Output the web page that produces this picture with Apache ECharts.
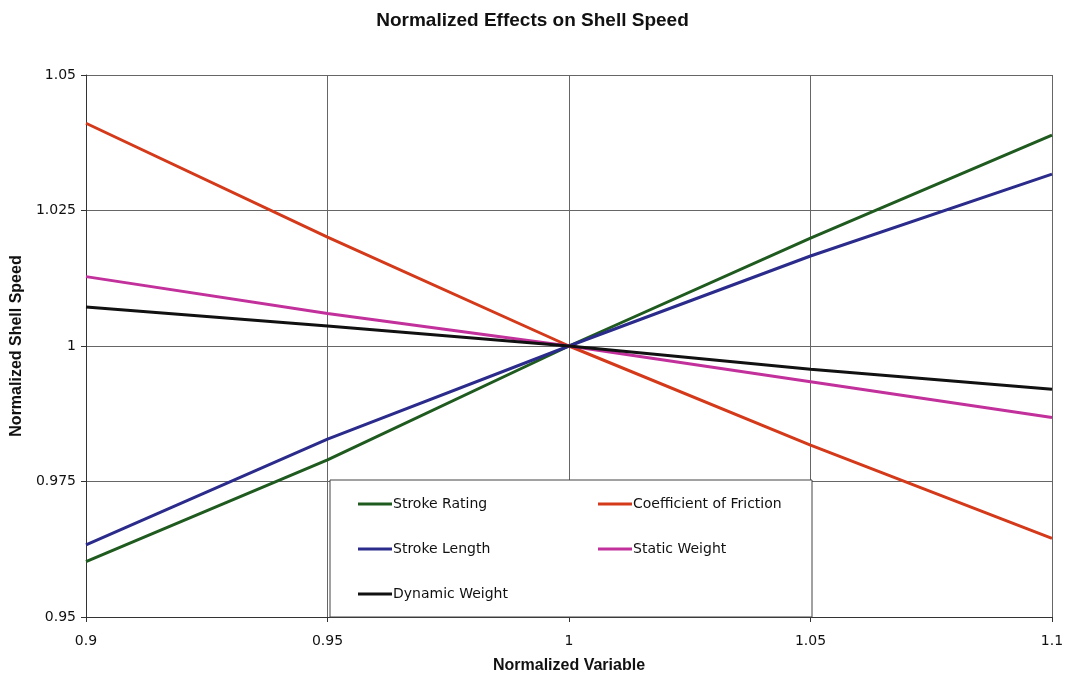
<!DOCTYPE html>
<html>
<head>
<meta charset="utf-8">
<script src="https://cdn.jsdelivr.net/npm/echarts@6/dist/echarts.min.js"></script>
<style>
  html, body { margin: 0; padding: 0; background: #fff; }
  #chart { width: 1065px; height: 679px; }
</style>
</head>
<body>
<div id="chart"></div>
<script>
// Normalized input variable (x) and resulting normalized shell speed per factor
const xValues = [0.9, 0.95, 1.0, 1.05, 1.1];
const strokeRating = [0.9602, 0.9790, 1.0, 1.0199, 1.0389];
const coefficientOfFriction = [1.0411, 1.0201, 1.0, 0.9817, 0.9645];
const strokeLength = [0.9633, 0.9828, 1.0, 1.0166, 1.0317];
const staticWeight = [1.0128, 1.0060, 1.0, 0.9934, 0.9868];
const dynamicWeight = [1.0072, 1.0037, 1.0, 0.9957, 0.9920];

const seriesDefs = [
  { name: 'Stroke Rating', values: strokeRating, color: '#1f5a1f' },
  { name: 'Coefficient of Friction', values: coefficientOfFriction, color: '#d4391a' },
  { name: 'Stroke Length', values: strokeLength, color: '#2b2b8c' },
  { name: 'Static Weight', values: staticWeight, color: '#c2309c' },
  { name: 'Dynamic Weight', values: dynamicWeight, color: '#111111' }
];

const tickFont = { fontFamily: 'DejaVu Sans', fontSize: 14, color: '#111' };
const nameFont = { fontFamily: 'Liberation Sans', fontSize: 16, fontWeight: 'bold', color: '#111' };
const gridLine = { show: true, lineStyle: { color: '#666', width: 1 } };

const chart = echarts.init(document.getElementById('chart'), null, { renderer: 'canvas' });

const legendCommon = {
  orient: 'vertical',
  icon: 'rect',
  itemWidth: 34,
  itemHeight: 3,
  itemGap: 31,
  padding: 0,
  selectedMode: false,
  textStyle: { fontFamily: 'DejaVu Sans', fontSize: 14, color: '#111', padding: [0, 0, 0, -4] },
  z: 6
};

chart.setOption({
  animation: false,
  backgroundColor: '#fff',
  title: {
    text: 'Normalized Effects on Shell Speed',
    left: 'center',
    top: 6,
    textStyle: { fontFamily: 'Liberation Sans', fontSize: 19, fontWeight: 'bold', color: '#111' }
  },
  grid: { left: 86, right: 13, top: 75, bottom: 62, containLabel: false, outerBoundsMode: 'none' },
  xAxis: {
    type: 'value',
    min: 0.9,
    max: 1.1,
    interval: 0.05,
    name: 'Normalized Variable',
    nameLocation: 'middle',
    nameGap: 41,
    nameTextStyle: nameFont,
    axisLine: { show: true, onZero: false, lineStyle: { color: '#333', width: 1 } },
    axisTick: { show: true, length: 5, lineStyle: { color: '#333' } },
    axisLabel: Object.assign({ margin: 17 }, tickFont),
    splitLine: gridLine
  },
  yAxis: {
    type: 'value',
    min: 0.95,
    max: 1.05,
    interval: 0.025,
    name: 'Normalized Shell Speed',
    nameLocation: 'middle',
    nameGap: 60,
    nameRotate: 90,
    nameTextStyle: nameFont,
    axisLine: { show: true, onZero: false, lineStyle: { color: '#333', width: 1 } },
    axisTick: { show: true, length: 5, lineStyle: { color: '#333' } },
    axisLabel: Object.assign({ margin: 10 }, tickFont),
    splitLine: gridLine
  },
  legend: [
    Object.assign({}, legendCommon, {
      left: 358, top: 497,
      data: ['Stroke Rating', 'Stroke Length', 'Dynamic Weight']
    }),
    Object.assign({}, legendCommon, {
      left: 598, top: 497,
      data: ['Coefficient of Friction', 'Static Weight']
    })
  ],
  graphic: [{
    type: 'rect',
    shape: { x: 330, y: 480, width: 482, height: 137 },
    style: { fill: '#fff', stroke: '#444', lineWidth: 1 },
    z: 5
  }],
  series: seriesDefs.map(s => ({
    name: s.name,
    type: 'line',
    data: xValues.map((x, i) => [x, s.values[i]]),
    showSymbol: false,
    symbol: 'none',
    lineStyle: { color: s.color, width: 3 },
    itemStyle: { color: s.color },
    z: 3
  }))
});
</script>
</body>
</html>
